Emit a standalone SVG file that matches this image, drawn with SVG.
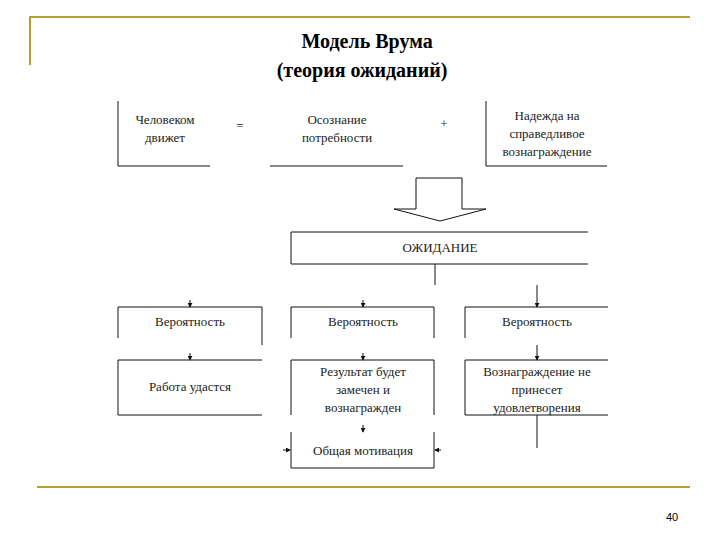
<svg xmlns="http://www.w3.org/2000/svg" width="720" height="540" viewBox="0 0 720 540">
<defs>
<style>
text{font-family:'Liberation Serif','DejaVu Serif',serif}
.t{font-size:13px;fill:#222;text-anchor:middle}
.h{font-size:20px;font-weight:bold;fill:#000;text-anchor:middle}
.l{stroke:#111;stroke-width:1;fill:none}
.g{stroke:#b8a030;stroke-width:2;fill:none}
</style>
<marker id="a" viewBox="0 0 6 6" refX="5" refY="3" markerWidth="5" markerHeight="5" orient="auto"><path d="M0,0L6,3L0,6z" fill="#111"/></marker>
</defs>
<rect width="720" height="540" fill="#fff"/>
<path class="g" d="M30,65V17H690M37,487H690"/>
<text class="h" x="367" y="48">Модель Врума</text>
<text class="h" x="362" y="77">(теория ожиданий)</text>
<text x="672" y="521" style="font-family:'Liberation Sans',sans-serif" font-size="11" text-anchor="middle">40</text>
<g id="n1"><path class="l" d="M118,101V166H210"/><text class="t" x="165" y="124">Человеком</text><text class="t" x="165" y="142">движет</text></g>
<text class="t" x="240" y="130" font-size="16">=</text>
<g id="n2"><path class="l" d="M270,166H403"/><text class="t" x="337" y="124">Осознание</text><text class="t" x="337" y="142">потребности</text></g>
<text class="t" x="444" y="128" font-size="16">+</text>
<g id="n3"><path class="l" d="M486,101V166H607"/><text class="t" x="547" y="120">Надежда на</text><text class="t" x="547" y="138">справедливое</text><text class="t" x="547" y="156">вознаграждение</text></g>
<g id="bigarrow"><path class="l" d="M416,209V178H462V209H486L440,221L394,209H416"/></g>
<g id="n4"><path class="l" d="M588,232H291V264H588"/><text class="t" x="440" y="252">ОЖИДАНИЕ</text></g>
<g id="v1"><path class="l" d="M262,345V307H118V338"/><text class="t" x="190" y="326">Вероятность</text></g>
<g id="v2"><path class="l" d="M291,338V307H434V338"/><text class="t" x="363" y="326">Вероятность</text></g>
<g id="v3"><path class="l" d="M465,338V307H608"/><text class="t" x="537" y="326">Вероятность</text></g>
<g id="r1"><path class="l" d="M262,360H118V415H262"/><text class="t" x="190" y="391">Работа удастся</text></g>
<g id="r2"><path class="l" d="M291,415V360H434V415"/><text class="t" x="363" y="376">Результат будет</text><text class="t" x="363" y="394">замечен и</text><text class="t" x="363" y="412">вознагражден</text></g>
<g id="r3"><path class="l" d="M608,360H465V415H608"/><text class="t" x="537" y="376">Вознаграждение не</text><text class="t" x="537" y="394">принесет</text><text class="t" x="537" y="412">удовлетворения</text></g>
<g id="m"><path class="l" d="M291,432V468H434V432"/><text class="t" x="363" y="455">Общая мотивация</text></g>
<g id="connectors">
<path class="l" d="M435,264V285"/>
<path class="l" d="M537,285V307" marker-end="url(#a)"/>
<path class="l" d="M537,345V360" marker-end="url(#a)"/>
<path class="l" d="M537,415V448"/>
<path class="l" d="M190,300V307" marker-end="url(#a)"/>
<path class="l" d="M363,300V307" marker-end="url(#a)"/>
<path class="l" d="M190,353V360" marker-end="url(#a)"/>
<path class="l" d="M363,353V360" marker-end="url(#a)"/>
<path class="l" d="M363,425V432" marker-end="url(#a)"/>
<path class="l" d="M283,450H290" marker-end="url(#a)"/>
<path class="l" d="M441,450H435" marker-end="url(#a)"/>
</g>
</svg>
